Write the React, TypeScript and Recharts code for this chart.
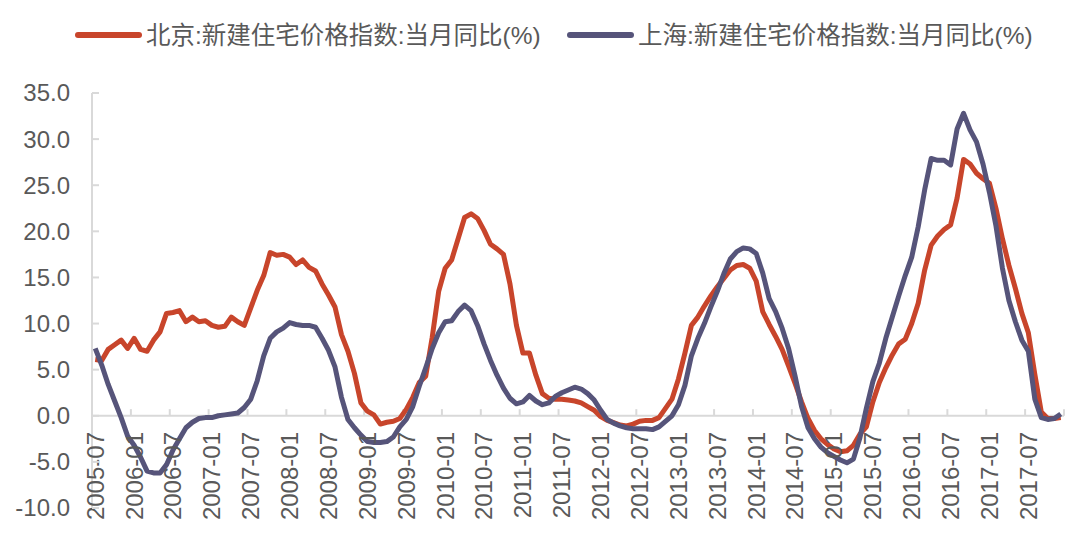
import React from "react";
import { LineChart, Line, XAxis, YAxis, ReferenceLine } from "recharts";

// Tick labels (every 6 months) on the category axis
const TICK_LABELS = [
  "2005-07", "2006-01", "2006-07", "2007-01", "2007-07", "2008-01", "2008-07",
  "2009-01", "2009-07", "2010-01", "2010-07", "2011-01", "2011-07", "2012-01",
  "2012-07", "2013-01", "2013-07", "2014-01", "2014-07", "2015-01", "2015-07",
  "2016-01", "2016-07", "2017-01", "2017-07",
];

// 北京:新建住宅价格指数:当月同比(%) — monthly, 2005-07 .. 2017-12
const BEIJING = [
  6.1, 6.0, 7.2, 7.7, 8.2, 7.3, 8.4, 7.2, 7.0, 8.2, 9.1, 11.1,
  11.2, 11.4, 10.2, 10.7, 10.2, 10.3, 9.8, 9.6, 9.7, 10.7, 10.2, 9.8,
  11.7, 13.6, 15.2, 17.7, 17.4, 17.5, 17.2, 16.4, 16.9, 16.1, 15.7, 14.3,
  13.1, 11.8, 8.8, 7.0, 4.6, 1.4, 0.5, 0.1, -0.9, -0.7, -0.6, -0.3,
  0.7, 2.0, 3.6, 4.3, 8.5, 13.5, 16.0, 16.9, 19.2, 21.5, 21.9, 21.4,
  20.1, 18.6, 18.1, 17.5, 14.3, 9.8, 6.8, 6.8, 4.4, 2.4, 1.9, 1.8,
  1.8, 1.7, 1.6, 1.4, 1.0, 0.6, -0.1, -0.5, -0.75, -1.0, -1.1, -0.9,
  -0.6, -0.5, -0.5, -0.2, 0.8, 1.8, 4.0, 6.8, 9.8, 10.7, 11.9, 13.0,
  14.0, 14.9, 15.8, 16.3, 16.4, 16.0, 14.6, 11.3, 9.9, 8.6, 7.2, 5.4,
  3.5, 1.5, -0.3, -1.6, -2.5, -3.1, -3.6, -3.9, -3.8, -3.2, -2.0, -1.2,
  1.5, 3.6, 5.2, 6.6, 7.8, 8.3, 10.0, 12.2, 15.8, 18.5, 19.5, 20.2,
  20.7, 23.6, 27.8, 27.3, 26.3, 25.7, 25.2, 22.5, 19.2, 16.3, 13.8, 11.1,
  9.0, 4.5, 0.4, -0.3, -0.3, -0.2,
];

// 上海:新建住宅价格指数:当月同比(%) — monthly, 2005-07 .. 2017-12
const SHANGHAI = [
  7.3, 5.5, 3.4, 1.6, -0.2, -2.2, -3.2, -4.5, -6.0, -6.2, -6.2, -5.3,
  -3.7, -2.5, -1.3, -0.7, -0.3, -0.2, -0.2, 0.0, 0.1, 0.2, 0.3, 0.9,
  1.8, 3.8, 6.5, 8.4, 9.1, 9.5, 10.1, 9.9, 9.8, 9.8, 9.6, 8.4,
  7.1, 5.3, 2.0, -0.4, -1.3, -2.1, -2.8, -2.9, -2.9, -2.8, -2.3, -1.2,
  -0.4, 1.0, 3.2, 5.2, 7.3, 9.0, 10.2, 10.3, 11.3, 12.0, 11.4, 9.8,
  7.8, 6.0, 4.4, 3.0, 1.9, 1.3, 1.5, 2.2, 1.6, 1.2, 1.4, 2.1,
  2.5, 2.8, 3.1, 2.9, 2.4, 1.7, 0.6, -0.4, -0.8, -1.1, -1.3, -1.4,
  -1.4, -1.4, -1.5, -1.2, -0.6, 0.0, 1.2, 3.3, 6.5, 8.4, 10.0, 11.8,
  13.5, 15.4, 17.0, 17.8, 18.2, 18.1, 17.6, 15.5, 12.7, 11.3, 9.5, 7.3,
  4.3, 1.0, -1.3, -2.5, -3.4, -4.0, -4.4, -4.8, -5.1, -4.7, -2.4, 0.8,
  3.7, 5.7, 8.4, 10.7, 13.0, 15.2, 17.2, 20.5, 24.5, 27.9, 27.7, 27.7,
  27.2, 31.1, 32.8, 31.0, 29.7, 27.3, 24.2, 20.6, 16.0, 12.5, 10.2, 8.2,
  7.0, 1.8, -0.2, -0.4, -0.3, 0.2,
];

const SERIES_NAMES = ["北京:新建住宅价格指数:当月同比(%)", "上海:新建住宅价格指数:当月同比(%)"];
const Y_TICKS = [-10, -5, 0, 5, 10, 15, 20, 25, 30, 35];

const RED = "#C8452B";
const BLUE = "#56547A";
const GRID = "#D9D9D9";
const TEXT = "#595959";
const FONT = "'Liberation Sans', Arial, 'Noto Sans CJK SC', sans-serif";

const MONTHS_PER_TICK = 6;
const data = BEIJING.map((v, i) => ({ idx: i + 0.5, beijing: v, shanghai: SHANGHAI[i] }));
const LABEL_TICKS = TICK_LABELS.map((_, k) => k * MONTHS_PER_TICK + 0.5);
const BOUNDARIES = Array.from({ length: BEIJING.length / MONTHS_PER_TICK + 1 }, (_, k) => k * MONTHS_PER_TICK);

const XTick = (props: any) => {
  const { x, y, payload } = props;
  const k = Math.round((payload.value - 0.5) / MONTHS_PER_TICK);
  const ty = y - 76;
  return (
    <text
      x={x}
      y={ty}
      dy="0.35em"
      textAnchor="end"
      transform={`rotate(-90, ${x}, ${ty})`}
      fill={TEXT}
      fontSize={24}
      fontFamily={FONT}
    >
      {TICK_LABELS[k]}
    </text>
  );
};

const YTick = (props: any) => {
  const { x, y, payload } = props;
  return (
    <g>
      <line x1={x + 22} x2={x + 29} y1={y} y2={y} stroke={GRID} strokeWidth={2} />
      <text x={x} y={y} dy="0.35em" textAnchor="end" fill={TEXT} fontSize={24} fontFamily={FONT}>
        {Number(payload.value).toFixed(1)}
      </text>
    </g>
  );
};

const LegendItem = ({ left, color, label }: { left: number; color: string; label: string }) => (
  <div style={{ position: "absolute", left, top: 0, height: 30, display: "flex", alignItems: "center" }}>
    <div style={{ width: 67, height: 6, borderRadius: 3, background: color, marginRight: 4, marginTop: -3 }} />
    <span style={{ color: TEXT, fontSize: 24.5, fontFamily: FONT, whiteSpace: "nowrap", lineHeight: "30px" }}>{label}</span>
  </div>
);

export default function App() {
  return (
    <div style={{ position: "absolute", left: 0, top: 0, width: 1079, height: 537, background: "#fff", overflow: "hidden" }}>
      <div style={{ position: "absolute", left: 0, top: 21, width: 1079, height: 30 }}>
        <LegendItem left={75} color={RED} label={SERIES_NAMES[0]} />
        <LegendItem left={567} color={BLUE} label={SERIES_NAMES[1]} />
      </div>
      <LineChart
        width={1079}
        height={537}
        data={data}
        margin={{ top: 93, right: 15, bottom: 0, left: 0 }}
        style={{ position: "absolute", left: 0, top: 0 }}
      >
        <XAxis
          type="number"
          dataKey="idx"
          domain={[0, BEIJING.length]}
          ticks={LABEL_TICKS}
          interval={0}
          height={29}
          axisLine={false}
          tickLine={false}
          tickSize={0}
          tickMargin={0}
          tick={<XTick />}
          allowDataOverflow
        />
        <YAxis
          type="number"
          domain={[-10, 35]}
          ticks={Y_TICKS}
          interval={0}
          width={92}
          axisLine={{ stroke: GRID, strokeWidth: 2 }}
          tickLine={false}
          tickSize={0}
          tickMargin={22}
          tick={<YTick />}
          allowDataOverflow
        />
        <ReferenceLine y={0} stroke={GRID} strokeWidth={2} />
        {BOUNDARIES.map((b) => (
          <ReferenceLine
            key={b}
            segment={[{ x: b, y: 0 }, { x: b, y: 0.72 }]}
            stroke={GRID}
            strokeWidth={2}
          />
        ))}
        <Line
          type="linear"
          dataKey="beijing"
          name={SERIES_NAMES[0]}
          stroke={RED}
          strokeWidth={5}
          strokeLinejoin="round"
          dot={false}
          activeDot={false}
          isAnimationActive={false}
          zIndex={700}
        />
        <Line
          type="linear"
          dataKey="shanghai"
          name={SERIES_NAMES[1]}
          stroke={BLUE}
          strokeWidth={5}
          strokeLinejoin="round"
          dot={false}
          activeDot={false}
          isAnimationActive={false}
          zIndex={700}
        />
      </LineChart>
    </div>
  );
}
